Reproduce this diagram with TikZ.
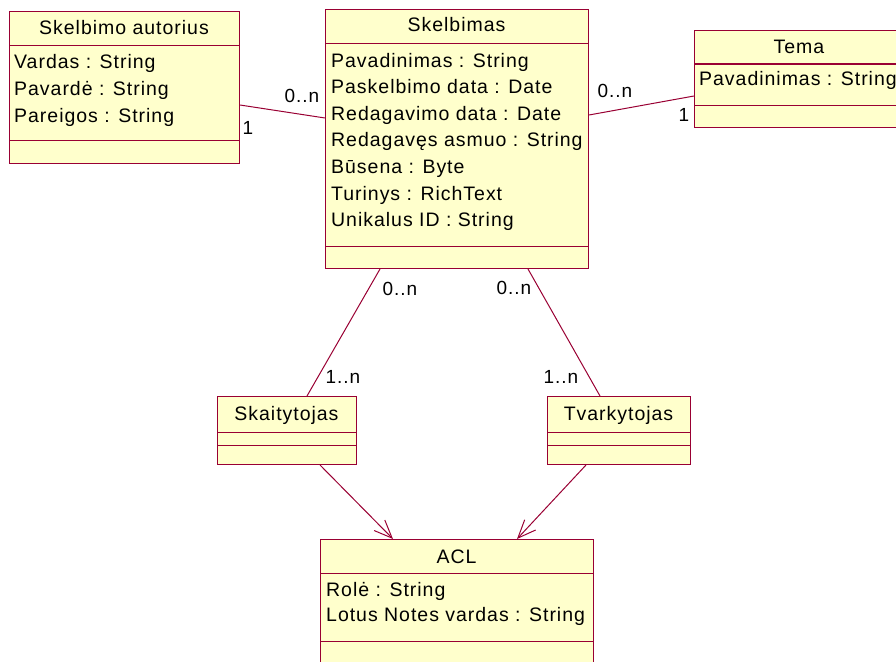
\documentclass[tikz,border=0pt]{standalone}
\usepackage{fontspec}
\setmainfont{Liberation Sans}[LetterSpace=5]
\usetikzlibrary{calc,arrows.meta}
\definecolor{boxfill}{HTML}{FFFFCC}
\definecolor{boxline}{HTML}{990033}
\tikzset{
  cls/.style={draw=boxline, fill=boxfill, line width=1pt, rectangle, anchor=north west, inner sep=0pt},
  divider/.style={draw=boxline, line width=1pt},
  title/.style={anchor=base, inner sep=0pt, font=\fontsize{19.5}{22}\selectfont},
  attr/.style={anchor=base west, inner sep=0pt, font=\fontsize{19.5}{22}\selectfont},
  mult/.style={anchor=center, inner sep=0pt, font=\fontsize{19}{22}\selectfont},
  assoc/.style={draw=boxline, line width=1pt},
  gen/.style={draw=boxline, line width=1pt, -{Straight Barb[length=18pt,width=15pt,line width=1pt]}},
}
\begin{document}
\begin{tikzpicture}[x=1pt,y=-1pt]
\useasboundingbox (0,0) rectangle (896,661);
\clip (0,0) rectangle (896,661);
% boxes
\node[cls, minimum width=230pt, minimum height=152pt] (aut) at (9,11) {};
\node[cls, minimum width=263pt, minimum height=259pt] (skel) at (325,9) {};
\node[cls, minimum width=220pt, minimum height=97pt] (tema) at (694,30) {};
\node[cls, minimum width=139pt, minimum height=68pt] (skait) at (217,396) {};
\node[cls, minimum width=143pt, minimum height=68pt] (tvark) at (547,396) {};
\node[cls, minimum width=273pt, minimum height=140pt] (acl) at (320,539) {};
% dividers
\draw[divider] ($(aut.north west)+(0,35)$) -- ($(aut.north east)+(0,35)$);
\draw[divider] ($(aut.north west)+(0,129)$) -- ($(aut.north east)+(0,129)$);
\draw[divider] ($(skel.north west)+(0,35)$) -- ($(skel.north east)+(0,35)$);
\draw[divider] ($(skel.north west)+(0,237)$) -- ($(skel.north east)+(0,237)$);
\draw[divider] ($(tema.north west)+(0,34)$) -- ($(tema.north east)+(0,34)$);
\draw[divider] ($(tema.north west)+(0,75)$) -- ($(tema.north east)+(0,75)$);
\draw[divider] ($(skait.north west)+(0,36)$) -- ($(skait.north east)+(0,36)$);
\draw[divider] ($(skait.north west)+(0,49)$) -- ($(skait.north east)+(0,49)$);
\draw[divider] ($(tvark.north west)+(0,36)$) -- ($(tvark.north east)+(0,36)$);
\draw[divider] ($(tvark.north west)+(0,49)$) -- ($(tvark.north east)+(0,49)$);
\draw[divider] ($(acl.north west)+(0,34)$) -- ($(acl.north east)+(0,34)$);
\draw[divider] ($(acl.north west)+(0,102)$) -- ($(acl.north east)+(0,102)$);
% texts
\node[title] (autT) at (124,35) {Skelbimo autorius};
\node[attr] (aut1) at (14,68) {Vardas : String};
\node[attr] (aut2) at (14,95) {Pavardė : String};
\node[attr] (aut3) at (14,122) {Pareigos : String};
\node[title] (skelT) at (456.5,32) {Skelbimas};
\node[attr] (sk1) at (331,67) {Pavadinimas : String};
\node[attr] (sk2) at (331,93.6) {Paskelbimo data : Date};
\node[attr] (sk3) at (331,120.2) {Redagavimo data : Date};
\node[attr] (sk4) at (331,146.8) {Redagavęs asmuo : String};
\node[attr] (sk5) at (331,173.4) {Būsena : Byte};
\node[attr] (sk6) at (331,200) {Turinys : RichText};
\node[attr] (sk7) at (331,226.6) {Unikalus ID : String};
\node[title] (temaT) at (799,53) {Tema};
\node[attr] (tema1) at (699,85) {Pavadinimas : String};
\node[title] (skaitT) at (286.5,420) {Skaitytojas};
\node[title] (tvarkT) at (618.5,420) {Tvarkytojas};
\node[title] (aclT) at (456.5,563) {ACL};
\node[attr] (acl1) at (326,596) {Rolė : String};
\node[attr] (acl2) at (326,621) {Lotus Notes vardas : String};
% associations
\draw[assoc] ($(aut.north east)+(0,94)$) -- ($(skel.north west)+(0,109)$);
\draw[assoc] ($(skel.north east)+(0,106)$) -- ($(tema.north west)+(0,66)$);
\draw[assoc] ($(skel.south west)+(55,0)$) -- ($(skait.north west)+(90,0)$);
\draw[assoc] ($(skel.south west)+(203,0)$) -- ($(tvark.north west)+(53,0)$);
\draw[gen] ($(skait.south west)+(103,0)$) -- ($(acl.north west)+(73,0)$);
\draw[gen] ($(tvark.south west)+(39,0)$) -- ($(acl.north west)+(197,0)$);
% multiplicities
\node[mult] (m1) at (302,96) {0..n};
\node[mult] (m2) at (248,128) {1};
\node[mult] (m3) at (615,91) {0..n};
\node[mult] (m4) at (684,115) {1};
\node[mult] (m5) at (400,289) {0..n};
\node[mult] (m6) at (514,288) {0..n};
\node[mult] (m7) at (343,377) {1..n};
\node[mult] (m8) at (561,377) {1..n};
\end{tikzpicture}
\end{document}
